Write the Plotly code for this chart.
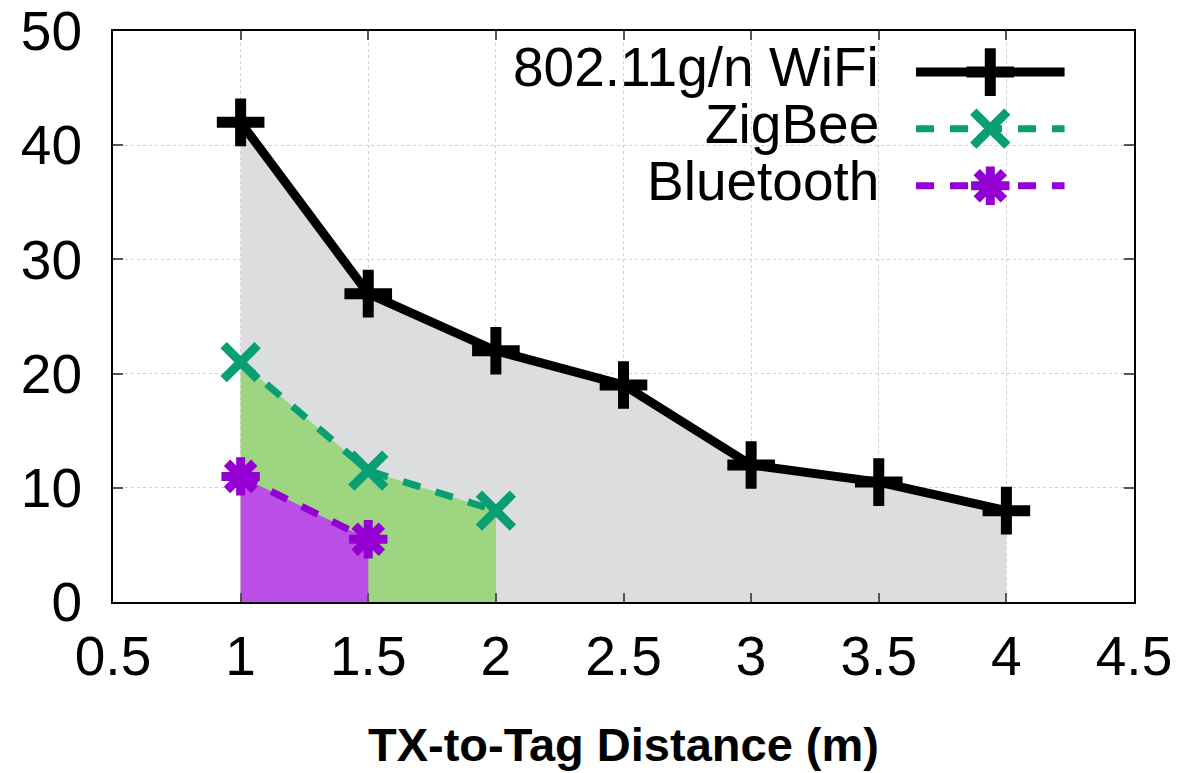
import plotly.graph_objects as go

# ---- data ----
wifi_x = [1, 1.5, 2, 2.5, 3, 3.5, 4]
wifi_y = [42, 27, 22, 19, 12, 10.5, 8]
zig_x = [1, 1.5, 2]
zig_y = [21, 11.5, 8]
bt_x = [1, 1.5]
bt_y = [11, 5.5]
series_names = ["802.11g/n WiFi", "ZigBee", "Bluetooth"]
x_ticks = [0.5, 1, 1.5, 2, 2.5, 3, 3.5, 4, 4.5]
x_tick_labels = ["0.5", "1", "1.5", "2", "2.5", "3", "3.5", "4", "4.5"]
y_ticks = [0, 10, 20, 30, 40, 50]
x_title = "TX-to-Tag Distance (m)"

FONT = "Liberation Sans, Arial, Helvetica, sans-serif"
line_cols = ["#000000", "#0a9e73", "#9400d3"]
fill_cols = ["#dcdddf", "#9dd581", "#bb4ee6"]
symbols = ["cross-thin-open", "x-thin-open", "asterisk-open"]
dashes = ["solid", "18px,16px", "18px,16px"]
widths = [9, 7, 7]
msizes = [34, 34, 32]
mwidths = [11, 9, 9]

fig = go.Figure()
data = [(wifi_x, wifi_y), (zig_x, zig_y), (bt_x, bt_y)]

# fills
for (xs, ys), fc in zip(data, fill_cols):
    fig.add_trace(go.Scatter(x=xs, y=ys, mode="lines", fill="tozeroy",
                             fillcolor=fc, line=dict(width=0, color=fc),
                             showlegend=False, hoverinfo="skip"))
# lines
for (xs, ys), lc, sym, d, w, ms, mw, nm in zip(data, line_cols, symbols, dashes,
                                               widths, msizes, mwidths, series_names):
    fig.add_trace(go.Scatter(x=xs, y=ys, mode="lines+markers", name=nm,
                             line=dict(color=lc, width=w, dash=d),
                             marker=dict(symbol=sym, size=ms, color=lc,
                                         line=dict(color=lc, width=mw)),
                             showlegend=False))

# custom legend (text left, sample right) on an overlay paper-like axis
leg_rows = [0.928, 0.829, 0.729]
lx0, lx1 = 0.7865, 0.932
lxm = (lx0 + lx1) / 2
for nm, ry, lc, sym, d, w, ms, mw in zip(series_names, leg_rows, line_cols, symbols,
                                          dashes, widths, msizes, mwidths):
    fig.add_trace(go.Scatter(x=[lx0, lx1], y=[ry, ry], mode="lines",
                             line=dict(color=lc, width=w, dash=d),
                             xaxis="x2", yaxis="y2", showlegend=False,
                             hoverinfo="skip"))
    fig.add_trace(go.Scatter(x=[lxm], y=[ry], mode="markers",
                             marker=dict(symbol=sym, size=ms, color=lc,
                                         line=dict(color=lc, width=mw)),
                             xaxis="x2", yaxis="y2", showlegend=False,
                             hoverinfo="skip"))
    fig.add_annotation(x=0.752, y=ry, xref="paper", yref="paper", text=nm,
                       showarrow=False, xanchor="right", yanchor="middle", yshift=5,
                       font=dict(family=FONT, size=55, color="#000"))

fig.add_annotation(x=0.5, y=-0.25, xref="paper", yref="paper", text="<b>" + x_title + "</b>",
                   showarrow=False, xanchor="center", yanchor="middle",
                   font=dict(family=FONT, size=47, color="#000"))

axis_common = dict(showline=True, linecolor="#000", linewidth=2, mirror="ticks",
                   ticks="inside", tickcolor="#555", tickwidth=1.5,
                   showgrid=True, gridcolor="#cfcfcf", griddash="dot", gridwidth=1,
                   zeroline=False, automargin=False,
                   tickfont=dict(family=FONT, size=55, color="#000"))

fig.update_layout(
    width=1188, height=773,
    margin=dict(l=113, r=54, t=31, b=171),
    paper_bgcolor="white", plot_bgcolor="white",
    xaxis=dict(range=[0.5, 4.5], tickvals=x_ticks, ticktext=x_tick_labels,
               ticklen=9, ticklabelstandoff=5, **axis_common),
    yaxis=dict(range=[0, 50], tickvals=y_ticks, ticklen=10,
               ticklabelstandoff=18, **axis_common),
    xaxis2=dict(range=[0, 1], overlaying="x", visible=False, anchor="y2"),
    yaxis2=dict(range=[0, 1], overlaying="y", visible=False, anchor="x2"),
    showlegend=False,
)

fig.write_html("out.html", config={"displayModeBar": False},
               post_script="document.body.style.margin='0px';document.body.style.overflow='hidden';")
